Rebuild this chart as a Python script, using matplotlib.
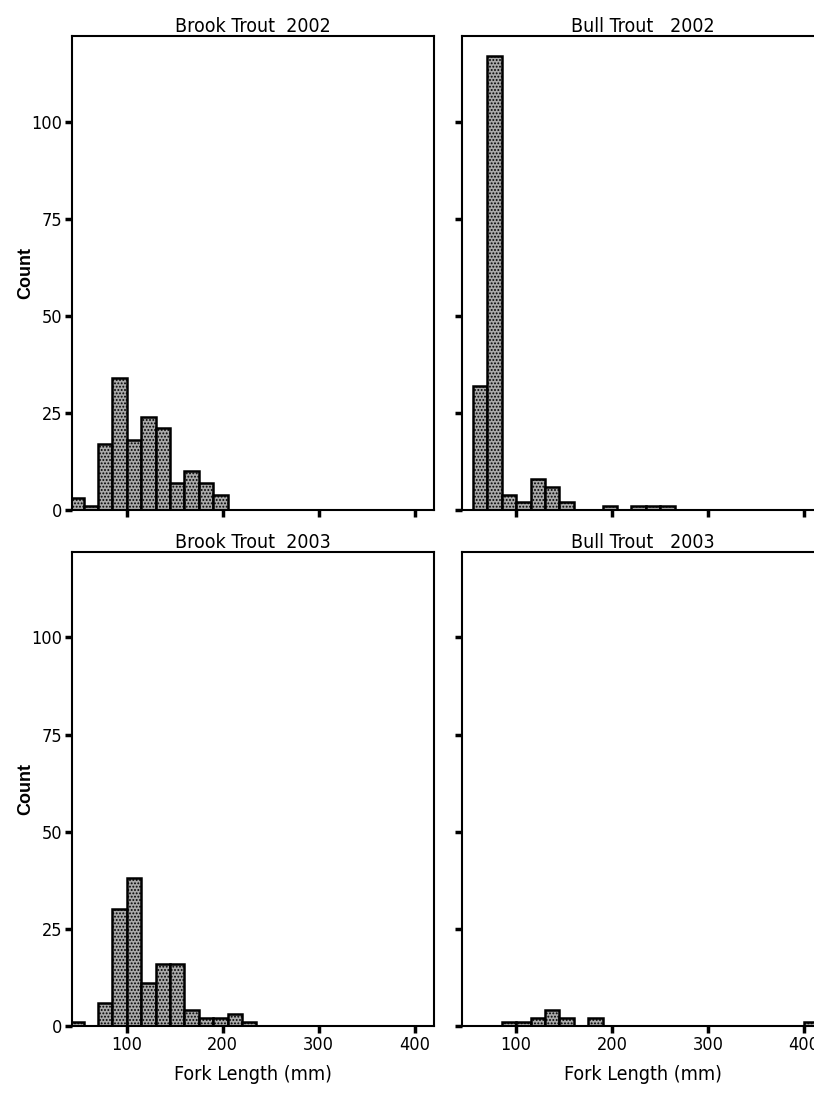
import matplotlib
matplotlib.use("Agg")
import matplotlib.pyplot as plt
from matplotlib import font_manager

# 15 mm fork length classes, left edges (mm)
bin_left = [40, 55, 70, 85, 100, 115, 130, 145, 160, 175, 190, 205, 220,
            235, 250, 265, 280, 295, 310, 325, 340, 355, 370, 385, 400]

brook_2002 = [3, 1, 17, 34, 18, 24, 21, 7, 10, 7, 4, 0, 0,
              0, 0, 0, 0, 0, 0, 0, 0, 0, 0, 0, 0]
bull_2002 = [0, 32, 117, 4, 2, 8, 6, 2, 0, 0, 1, 0, 1,
             1, 1, 0, 0, 0, 0, 0, 0, 0, 0, 0, 0]
brook_2003 = [1, 0, 6, 30, 38, 11, 16, 16, 4, 2, 2, 3, 1,
              0, 0, 0, 0, 0, 0, 0, 0, 0, 0, 0, 0]
bull_2003 = [0, 0, 0, 1, 1, 2, 4, 2, 0, 2, 0, 0, 0,
             0, 0, 0, 0, 0, 0, 0, 0, 0, 0, 0, 1]

titles = ["Brook Trout  2002", "Bull Trout   2002",
          "Brook Trout  2003", "Bull Trout   2003"]
y_ticks = [0, 25, 50, 75, 100]
x_ticks = [100, 200, 300, 400]

# narrow face if one is around, else condensed DejaVu
names = {f.name for f in font_manager.fontManager.ttflist}
if "Liberation Sans Narrow" in names:
    narrow = dict(family="Liberation Sans Narrow")
else:
    narrow = dict(family="DejaVu Sans", stretch="condensed")

plt.rcParams["hatch.color"] = "#2a2a2a"
plt.rcParams["hatch.linewidth"] = 0.9

fig = plt.figure(figsize=(8.14, 11.10), dpi=100)

# panel positions in figure fractions (right column runs off the page)
left_x, right_x = 0.0885, 0.567
top_y, bot_y = 0.5405, 0.0757
w, h = 0.4445, 0.427

panels = [
    (left_x, top_y, brook_2002, True, False),
    (right_x, top_y, bull_2002, False, False),
    (left_x, bot_y, brook_2003, True, True),
    (right_x, bot_y, bull_2003, False, True),
]

for i, (px, py, counts, show_y, show_x) in enumerate(panels):
    ax = fig.add_axes([px, py, w, h])
    lefts = [b for b, c in zip(bin_left, counts) if c > 0]
    vals = [c for c in counts if c > 0]
    ax.bar(lefts, vals, width=15, align="edge", facecolor="#a9a9a9",
           edgecolor="black", linewidth=1.8, hatch=".....")
    ax.set_xlim(43, 420)
    ax.set_ylim(0, 122)
    ax.set_xticks(x_ticks)
    ax.set_yticks(y_ticks)
    for s in ax.spines.values():
        s.set_linewidth(1.5)
    ax.tick_params(direction="out", length=5, width=2.5, pad=2)
    if show_y:
        ax.set_yticklabels([str(t) for t in y_ticks], fontsize=13, **narrow)
        ax.set_ylabel("Count", fontsize=13, fontweight="bold",
                      family="Liberation Sans")
        ax.yaxis.set_label_coords(-0.105, 0.5)
    else:
        ax.set_yticklabels([])
    if show_x:
        ax.set_xticklabels([str(t) for t in x_ticks], fontsize=13, **narrow)
        ax.set_xlabel("Fork Length (mm)", fontsize=14, labelpad=8, **narrow)
    else:
        ax.set_xticklabels([])
    ax.set_title(titles[i], fontsize=14, pad=2, **narrow)

fig.savefig("out.png", dpi=100)
